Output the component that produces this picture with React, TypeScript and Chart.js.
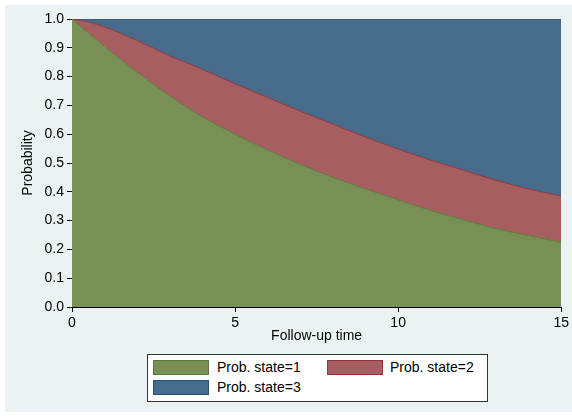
import React, { useEffect, useRef } from "react";
import { Chart, registerables } from "chart.js";

Chart.register(...registerables);

const times = [0, 0.5, 1, 2, 3, 4, 5, 6, 7, 8, 9, 10, 11, 12, 13, 14, 15];
const state1 = [1.0, 0.952, 0.905, 0.815, 0.733, 0.66, 0.6, 0.545, 0.495, 0.45, 0.41, 0.372, 0.335, 0.303, 0.272, 0.248, 0.225];
const state2 = [0, 0.038, 0.067, 0.11, 0.139, 0.165, 0.175, 0.182, 0.185, 0.185, 0.18, 0.176, 0.175, 0.172, 0.168, 0.162, 0.16];
const state3 = [0, 0.01, 0.028, 0.075, 0.128, 0.175, 0.225, 0.273, 0.32, 0.365, 0.41, 0.452, 0.49, 0.525, 0.56, 0.59, 0.615];
const seriesLabels = ["Prob. state=1", "Prob. state=2", "Prob. state=3"];
const xTicks = [0, 5, 10, 15];

const FONT = "'Liberation Sans', Arial, Helvetica, sans-serif";
const fills = ["rgb(120,144,86)", "rgb(166,94,97)", "rgb(72,106,139)"];
const borders = ["rgb(90,122,55)", "rgb(144,53,59)", "rgb(40,80,120)"];

export default function App() {
  const ref = useRef<HTMLCanvasElement | null>(null);

  useEffect(() => {
    if (!ref.current) return;
    const series = [state1, state2, state3];
    const chart = new Chart(ref.current, {
      type: "line",
      data: {
        datasets: series.map((s, i) => ({
          label: seriesLabels[i],
          data: times.map((t, j) => ({ x: t, y: s[j] })),
          backgroundColor: fills[i],
          borderColor: borders[i],
          borderWidth: 1,
          pointRadius: 0,
          fill: i === 0 ? "origin" : "-1",
          cubicInterpolationMode: "monotone" as const,
        })),
      },
      options: {
        animation: false,
        responsive: false,
        maintainAspectRatio: false,
        layout: { padding: { left: 0, top: 19, right: 9, bottom: 68 } },
        plugins: { legend: { display: false }, tooltip: { enabled: false } },
        scales: {
          x: {
            type: "linear",
            min: 0,
            max: 15,
            afterBuildTicks: (scale: any) => {
              scale.ticks = xTicks.map((v) => ({ value: v }));
            },
            afterFit: (scale: any) => {
              scale.height = 42;
            },
            ticks: { color: "#000", font: { family: FONT, size: 14 }, padding: 3, maxRotation: 0 },
            grid: { drawOnChartArea: false, drawTicks: true, tickLength: 5, color: "#000" },
            border: { display: true, color: "#000", width: 1 },
            title: {
              display: true,
              text: "Follow-up time",
              color: "#000",
              font: { family: FONT, size: 14 },
              padding: { top: 4, bottom: 4 },
            },
          },
          y: {
            stacked: true,
            min: 0,
            max: 1,
            afterFit: (scale: any) => {
              scale.width = 72;
            },
            ticks: {
              stepSize: 0.1,
              color: "#000",
              font: { family: FONT, size: 14 },
              padding: 3,
              callback: (v: any) => Number(v).toFixed(1),
            },
            grid: { drawOnChartArea: false, drawTicks: true, tickLength: 5, color: "#000" },
            border: { display: true, color: "#000", width: 1 },
            title: {
              display: true,
              text: "Probability",
              color: "#000",
              font: { family: FONT, size: 14 },
              padding: { top: 20, bottom: 0 },
            },
          },
        },
      },
    });
    return () => chart.destroy();
  }, []);

  const legendItems = [
    { left: 153, top: 360, textLeft: 217, idx: 0 },
    { left: 327, top: 360, textLeft: 390, idx: 1 },
    { left: 153, top: 380, textLeft: 217, idx: 2 },
  ];

  return (
    <div style={{ position: "absolute", left: 0, top: 0, width: 572, height: 417, background: "#fff", overflow: "hidden" }}>
      <div style={{ position: "absolute", left: 5, top: 5, width: 567, height: 407, background: "#EAF2F3" }} />
      <canvas ref={ref} width={572} height={417} style={{ position: "absolute", left: 0, top: 0, width: 572, height: 417 }} />
      <div
        style={{
          position: "absolute",
          left: 147,
          top: 354,
          width: 339,
          height: 46,
          background: "#fff",
          border: "1px solid #333",
        }}
      />
      {legendItems.map((it) => (
        <React.Fragment key={it.idx}>
          <div
            style={{
              position: "absolute",
              left: it.left,
              top: it.top,
              width: 54,
              height: 13,
              background: fills[it.idx],
              border: `1px solid ${borders[it.idx]}`,
            }}
          />
          <div
            style={{
              position: "absolute",
              left: it.textLeft,
              top: it.top - 1,
              height: 17,
              lineHeight: "17px",
              fontFamily: FONT,
              fontSize: 14,
              color: "#000",
              whiteSpace: "nowrap",
            }}
          >
            {seriesLabels[it.idx]}
          </div>
        </React.Fragment>
      ))}
    </div>
  );
}
